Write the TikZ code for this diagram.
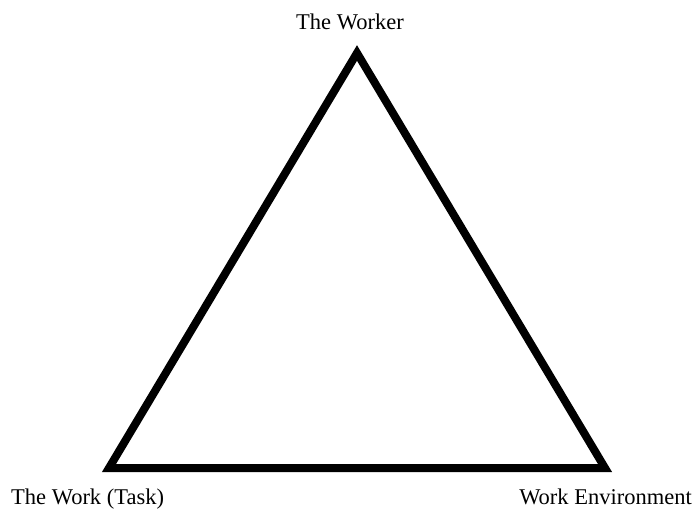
\documentclass[tikz,border=0pt]{standalone}
\usepackage{fontspec}
\setmainfont{Liberation Serif}
\begin{document}
\begin{tikzpicture}[x=1pt,y=-1pt,
  lbl/.style={inner sep=0pt,font=\fontsize{22.5}{26}\selectfont},
  tri/.style={line width=8pt,line join=miter,miter limit=10}]
\useasboundingbox (0,0) rectangle (693,510);
\coordinate (top) at (357,53);
\coordinate (bl) at (109,468);
\coordinate (br) at (605,468);
\draw[tri] (top) -- (bl) -- (br) -- cycle;
\node[lbl,anchor=base] (w) at (350,30) {The Worker};
\node[lbl,anchor=base west] (t) at (11,504) {The Work (Task)};
\node[lbl,anchor=base east] (e) at (692,504) {Work Environment};
\end{tikzpicture}
\end{document}
